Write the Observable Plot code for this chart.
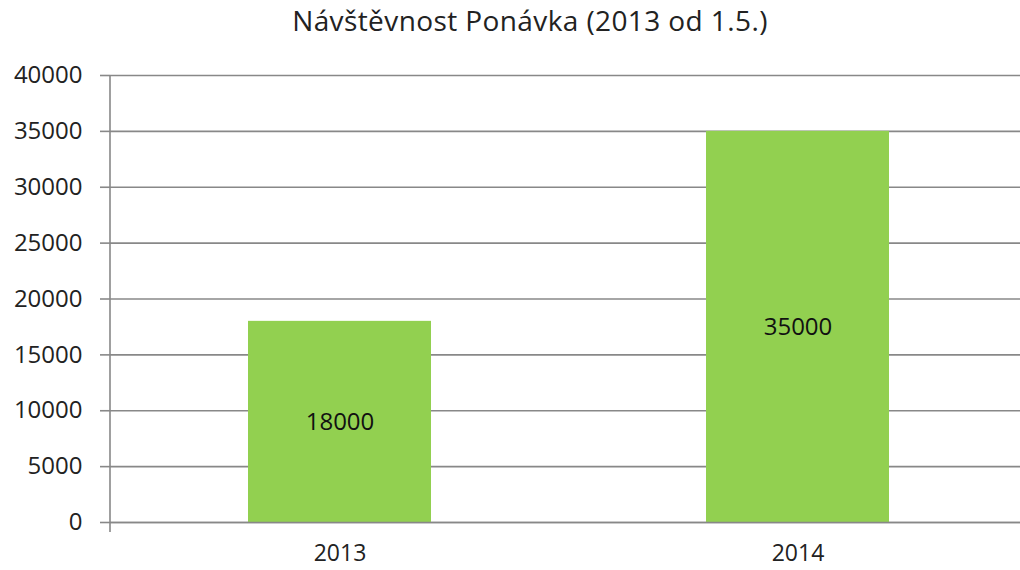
<!DOCTYPE html>
<html><head><meta charset="utf-8">
<script src="https://cdn.jsdelivr.net/npm/d3@7"></script>
<script src="https://cdn.jsdelivr.net/npm/@observablehq/plot@0.6"></script>
<style>
body{margin:0;background:#fff;font-family:"Open Sans",sans-serif;}
#title{height:45px;line-height:40px;text-align:center;font-size:28px;color:#222;letter-spacing:0.4px;padding-left:40px;}
</style></head><body>
<div id="title">Návštěvnost Ponávka (2013 od 1.5.)</div>
<div id="chart"></div>
<script>
const years = ["2013", "2014"];
const visitors = [18000, 35000];
const yTicks = [0, 5000, 10000, 15000, 20000, 25000, 30000, 35000, 40000];
const data = years.map((y, i) => ({year: y, value: visitors[i]}));

const chart = Plot.plot({
  width: 1020, height: 525,
  marginLeft: 110, marginRight: 0, marginTop: 30, marginBottom: 48,
  style: {fontFamily: "Open Sans", fontSize: "24px", color: "#222", background: "#fff"},
  x: {domain: years, range: [110, 1027], paddingInner: 0.6, paddingOuter: 0.3, label: null},
  y: {domain: [0, 40000], label: null},
  marks: [
    Plot.gridY(yTicks, {stroke: "#888", strokeOpacity: 1, strokeWidth: 1.6}),
    Plot.barY(data, {x: "year", y: "value", fill: "#92D050"}),
    Plot.ruleY([0], {stroke: "#888", strokeWidth: 1.6}),
    Plot.axisY(yTicks, {tickSize: 10, tickPadding: 18, stroke: "#888", strokeWidth: 1.6, tickFormat: d => String(d), fontSize: 24, label: null}),
    Plot.axisX({tickSize: 0, tickPadding: 22, fontSize: 23, label: null}),
    Plot.text(data, {x: "year", y: d => d.value / 2, text: d => String(d.value), fontSize: 24, fill: "#111"})
  ]
});
document.getElementById("chart").appendChild(chart);
// vertical axis line incl. bottom tick
d3.select(chart).append("line").attr("x1", 110).attr("x2", 110).attr("y1", 30).attr("y2", 487)
  .attr("stroke", "#888").attr("stroke-width", 1.6);
</script></body></html>
